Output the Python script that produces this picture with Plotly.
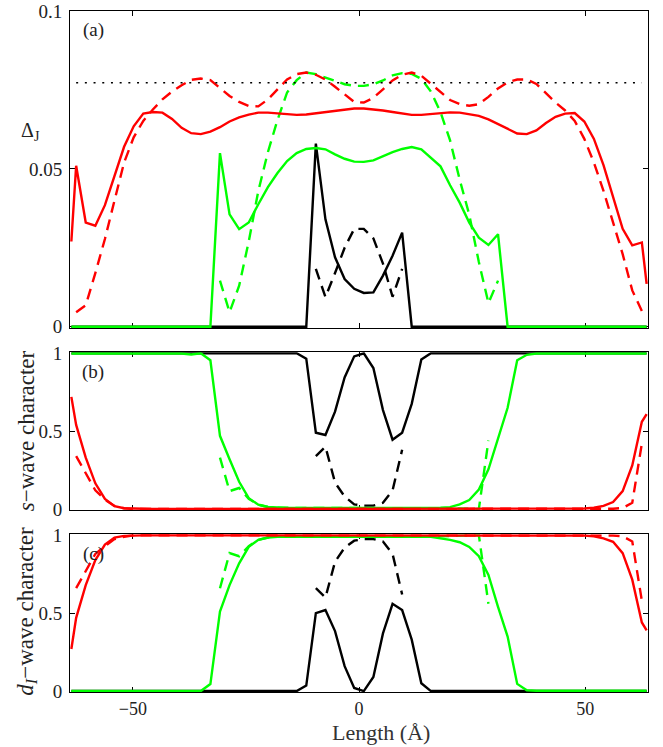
import plotly.graph_objects as go

N = None
# Position along the junction (Å)
X = [-63.6, -62.54, -60.42, -58.30, -56.18, -54.06, -51.94, -49.82, -47.70, -45.58,
     -43.46, -41.34, -39.22, -37.10, -34.98, -32.86, -30.74, -28.62, -26.50, -24.38,
     -22.26, -20.14, -18.02, -15.90, -13.78, -11.66, -9.54, -7.42, -5.30, -3.18,
     -1.06, 1.06, 3.18, 5.30, 7.42, 9.54, 11.66, 13.78, 15.90, 18.02,
     20.14, 22.26, 24.38, 26.50, 28.62, 30.74, 32.86, 34.98, 37.10, 39.22,
     41.34, 43.46, 45.58, 47.70, 49.82, 51.94, 54.06, 56.18, 58.30, 60.42,
     62.54, 63.6]

# ---- panel (a): Delta_J ----
A_RED = [0.027, 0.051, 0.033, 0.032, 0.0385, 0.048, 0.057, 0.0635, 0.0675, 0.068,
         0.0678, 0.0658, 0.063, 0.0613, 0.061, 0.0618, 0.0632, 0.065, 0.0663, 0.0672,
         0.0678, 0.0678, 0.0676, 0.0673, 0.0671, 0.0672, 0.0676, 0.068, 0.0685, 0.0689,
         0.0691, 0.0691, 0.0689, 0.0685, 0.068, 0.0675, 0.0671, 0.0671, 0.0674, 0.0677,
         0.0679, 0.0678, 0.0673, 0.0668, 0.0657, 0.0642, 0.0625, 0.0612, 0.061, 0.0622,
         0.0645, 0.0665, 0.0675, 0.0677, 0.065, 0.0595, 0.0512, 0.041, 0.031, 0.0258,
         0.0267, 0.0136]
A_RED_D = [N, 0.0046, 0.0068, 0.017, 0.0278, 0.040, 0.052, 0.060, 0.0652, 0.0688,
           0.072, 0.0745, 0.0765, 0.0782, 0.0786, 0.0781, 0.0755, 0.0731, 0.0712, 0.0699,
           0.0698, 0.072, 0.0752, 0.0783, 0.080, 0.0805, 0.0798, 0.0783, 0.076, 0.0735,
           0.0712, 0.071, 0.0725, 0.0752, 0.078, 0.0798, 0.0805, 0.0795, 0.077, 0.0743,
           0.0718, 0.0705, 0.070, 0.0705, 0.0728, 0.0755, 0.0774, 0.0783, 0.0783, 0.0769,
           0.074, 0.071, 0.0685, 0.0652, 0.0595, 0.052, 0.043, 0.033, 0.023, 0.0115,
           0.005, N]
A_GREEN = [0, 0, 0, 0, 0, 0, 0, 0, 0, 0,
           0, 0, 0, 0, 0, 0, 0.055, 0.0356, 0.0309, 0.033,
           0.0388, 0.0442, 0.0487, 0.0525, 0.055, 0.0563, 0.0566, 0.0562, 0.0546, 0.0532,
           0.0523, 0.0522, 0.0527, 0.0541, 0.0553, 0.0563, 0.0569, 0.0562, 0.0535, 0.0508,
           0.0448, 0.0393, 0.033, 0.0282, 0.0259, 0.0293, 0, 0, 0, 0,
           0, 0, 0, 0, 0, 0, 0, 0, 0, 0,
           0, 0]
A_GREEN_D = [N, N, N, N, N, N, N, N, N, N,
             N, N, N, N, N, N, 0.0146, 0.0046, 0.013, 0.027,
             0.043, 0.0553, 0.0655, 0.0742, 0.0781, 0.0805, 0.080, 0.079, 0.0778, 0.0768,
             0.0763, 0.0763, 0.0768, 0.078, 0.0796, 0.0803, 0.0801, 0.0785, 0.0745, 0.068,
             0.059, 0.0466, 0.0355, 0.0205, 0.0075, 0.0146, N, N, N, N,
             N, N, N, N, N, N, N, N, N, N,
             N, N]
A_BLACK = [0] * 26 + [0.058, 0.034, 0.022, 0.0151, 0.012, 0.0107, 0.0109, 0.0162, 0.0225, 0.0298] + [0] * 26
A_BLACK_D = [N] * 26 + [0.0183, 0.0094, 0.017, 0.025, 0.031, 0.031, 0.028, 0.020, 0.0095, 0.0183] + [N] * 26
DELTA_BULK = 0.0773

# ---- panel (b): s-wave character ----
B_RED = [0.72, 0.54, 0.33, 0.165, 0.065, 0.018, 0.005, 0.002] + [0] * 46 + \
        [0.003, 0.008, 0.02, 0.045, 0.115, 0.28, 0.56, 0.61]
B_RED_D = [N, 0.34, 0.23, 0.12, 0.06, 0.02, 0.005] + [0] * 50 + [0.002, 0.007, 0.04, 0.42, N]
B_GREEN = [0.998] * 13 + [0.992, 1.0, 0.955, 0.47, 0.32, 0.175, 0.07,
           0.028, 0.013, 0.008] + [0.007] * 16 + \
          [0.008, 0.012, 0.03, 0.058, 0.125, 0.255, 0.445, 0.65, 0.955, 0.99] + [0.998] * 13
B_GREEN_D = [N] * 16 + [0.33, 0.115, 0.135, 0.065, 0.028, 0.013, 0.008] + [0.007] * 16 + \
            [0.005, 0.004, 0.003, 0.002, 0.0, 0.44] + [N] * 16
B_BLACK = [1.0] * 25 + [0.965, 0.49, 0.475, 0.625, 0.845, 0.98, 1.0, 0.905, 0.635, 0.445,
                        0.49, 0.675, 0.96] + [1.0] * 24
B_BLACK_D = [N] * 26 + [0.34, 0.40, 0.17, 0.08, 0.03, 0.022, 0.022, 0.04, 0.12, 0.38] + [N] * 26

# ---- panel (c): d_I-wave character ----
C_RED = [0.27, 0.47, 0.68, 0.84, 0.94, 0.985, 0.996, 0.999] + [1.0] * 46 + \
        [0.998, 0.993, 0.98, 0.958, 0.885, 0.715, 0.44, 0.39]
C_RED_D = [N, 0.66, 0.77, 0.88, 0.93, 0.975, 0.99] + [1.0] * 50 + [0.998, 0.993, 0.96, 0.58, N]
C_GREEN = [0.0] * 15 + [0.045, 0.51, 0.68, 0.82, 0.925, 0.97, 0.985, 0.99] + [0.99] * 16 + \
          [0.98, 0.97, 0.955, 0.925, 0.865, 0.745, 0.54, 0.35, 0.046, 0.005] + [0.002] * 13
C_GREEN_D = [N] * 16 + [0.66, 0.885, 0.865, 0.93, 0.97, 0.985, 0.99] + [0.99] * 16 + \
            [0.993, 0.995, 0.996, 0.997, 1.0, 0.56] + [N] * 16
C_BLACK = [0.0] * 25 + [0.035, 0.5, 0.52, 0.385, 0.16, 0.02, 0.0, 0.09, 0.37, 0.56,
                        0.52, 0.33, 0.05] + [0.0] * 24
C_BLACK_D = [N] * 26 + [0.66, 0.60, 0.83, 0.92, 0.965, 0.975, 0.975, 0.96, 0.88, 0.62] + [N] * 26

X_TICKS = [-50, 0, 50]
A_TICKS = [0, 0.05, 0.1]
A_TICKTEXT = ["0", "0.05", "0.1"]
BC_TICKS = [0, 0.5, 1]
BC_TICKTEXT = ["0", "0.5", "1"]

RED = "#ff0000"
GREEN = "#00ff00"
BLACK = "#000000"
LW = 2.4
DASH = "11px,7px"

fig = go.Figure()


def add(y, color, dash, xa, ya, x=X, width=LW):
    fig.add_trace(go.Scatter(x=x, y=y, mode="lines",
                             line=dict(color=color, width=width, dash=dash),
                             xaxis=xa, yaxis=ya, showlegend=False,
                             connectgaps=False, hoverinfo="skip"))


panels = [
    ("x", "y", A_BLACK, A_BLACK_D, A_GREEN, A_GREEN_D, A_RED, A_RED_D),
    ("x2", "y2", B_BLACK, B_BLACK_D, B_GREEN, B_GREEN_D, B_RED, B_RED_D),
    ("x3", "y3", C_BLACK, C_BLACK_D, C_GREEN, C_GREEN_D, C_RED, C_RED_D),
]
for xa, ya, bk, bkd, gr, grd, rd, rdd in panels:
    add(bk, BLACK, "solid", xa, ya)
    add(bkd, BLACK, DASH, xa, ya)
    add(gr, GREEN, "solid", xa, ya)
    add(grd, GREEN, DASH, xa, ya)
    add(rd, RED, "solid", xa, ya)
    add(rdd, RED, DASH, xa, ya)

# dotted bulk level in panel (a)
add([DELTA_BULK] * (len(X) - 2), BLACK, "2px,6.7px", "x", "y", x=X[1:-1], width=1.5)

FONT = "Liberation Serif, Times New Roman, Times, serif"
TICKFONT = dict(family=FONT, size=19, color="#222222")

common_x = dict(range=[-63.9, 63.9], showline=True, linecolor=BLACK, linewidth=1,
                mirror="ticks", ticks="inside", ticklen=5, tickcolor=BLACK,
                tickvals=X_TICKS, showgrid=False, zeroline=False, automargin=False,
                layer="below traces", tickfont=TICKFONT)
common_y = dict(showline=True, linecolor=BLACK, linewidth=1, mirror="ticks",
                ticks="inside", ticklen=5, tickcolor=BLACK, showgrid=False,
                zeroline=False, layer="below traces", tickfont=TICKFONT,
                ticklabelstandoff=3, automargin=False)

fig.update_layout(
    width=663, height=747,
    margin=dict(l=70, r=15, t=11, b=55, autoexpand=False),
    paper_bgcolor="white", plot_bgcolor="white",
    xaxis=dict(common_x, domain=[0, 1], anchor="y", showticklabels=False),
    yaxis=dict(common_y, domain=[0.5345, 1.0], anchor="x", range=[-0.0004, 0.1],
               tickvals=A_TICKS, ticktext=A_TICKTEXT),
    xaxis2=dict(common_x, domain=[0, 1], anchor="y2", showticklabels=False),
    yaxis2=dict(common_y, domain=[0.2673, 0.4988], anchor="x2", range=[-0.006, 1.006],
                tickvals=BC_TICKS, ticktext=BC_TICKTEXT),
    xaxis3=dict(common_x, domain=[0, 1], anchor="y3", showticklabels=True,
                ticklabelstandoff=0, tickfont=dict(family=FONT, size=18, color="#222222")),
    yaxis3=dict(common_y, domain=[0.0, 0.2316], anchor="x3", range=[-0.006, 1.006],
                tickvals=BC_TICKS, ticktext=BC_TICKTEXT),
)

ann = []
for label, yref, yv in [("(a)", "y domain", 0.939), ("(b)", "y2 domain", 0.875),
                        ("(c)", "y3 domain", 0.875)]:
    ann.append(dict(text=label, xref="x domain", yref=yref, x=0.0398, y=yv,
                    xanchor="center", yanchor="middle", showarrow=False,
                    font=dict(family=FONT, size=19, color="#222222")))
ann.append(dict(text="Δ<sub>J</sub>", xref="paper", yref="y domain", x=-0.068, y=0.62,
                xanchor="center", yanchor="middle", showarrow=False,
                font=dict(family=FONT, size=20, color="#222222")))
ann.append(dict(text="<i>s</i>−wave character", xref="paper", yref="y2 domain",
                x=-0.076, y=0.5, textangle=-90, xanchor="center", yanchor="middle",
                showarrow=False, font=dict(family=FONT, size=23, color="#222222")))
ann.append(dict(text="<i>d<sub>I</sub></i>−wave character", xref="paper", yref="y3 domain",
                x=-0.076, y=0.51, textangle=-90, xanchor="center", yanchor="middle",
                showarrow=False, font=dict(family=FONT, size=23, color="#222222")))
ann.append(dict(text="Length (Å)", xref="paper", yref="paper", x=(381 - 70) / 578,
                y=-(732 - 692) / 681, xanchor="center", yanchor="middle",
                showarrow=False, font=dict(family=FONT, size=22, color="#333333")))
fig.update_layout(annotations=ann)

fig.write_html("out.html")
